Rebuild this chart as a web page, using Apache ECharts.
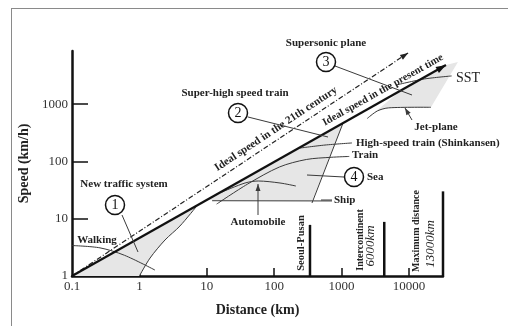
<!DOCTYPE html>
<html><head><meta charset="utf-8">
<script src="https://cdn.jsdelivr.net/npm/echarts@6/dist/echarts.min.js"></script>
<style>html,body{margin:0;padding:0;background:#fff}#c{width:508px;height:326px}</style>
</head><body><div id="c"></div>
<script>
// Axis ticks
const xTickLabels = [0.1, 1, 10, 100, 1000, 10000];
const xTickMarks = [1, 10, 100, 1000, 10000];
const yTickLabels = [1, 10, 100, 1000];
const yTickMarks = [10, 100, 1000];

// Lines (distance km, speed km/h)
const idealNow = [[0.1, 1], [35400, 4800]];
const ideal21 = [[0.1, 1], [9700, 7800]];
const regionWalk = [[0.1, 1], [1, 1], [1.44, 2.06], [2.4, 4.25], [4.0, 7.46], [7.2, 17]];
const newTrafficCurve = [[1, 1], [1.44, 2.06], [2.4, 4.25], [4.0, 7.46], [7.2, 17]];
const regionLand = [[10, 21.2], [1050, 465], [364, 20.4]];
const regionAir = [[2400, 560], [7000, 1600], [35400, 4800], [53300, 5430], [21200, 880], [5000, 860], [3400, 760]];
const walking = [[0.1, 3.4], [0.26, 3.1], [0.6, 2.3], [1.7, 1.27]];
const train = [[14, 18], [40, 40], [120, 80], [300, 108], [700, 118], [1300, 122]];
const shinkansen = [[241, 171], [568, 193], [1427, 210]];
const automobile = [[16.8, 29.2], [37, 42], [58, 45.5], [122, 42], [210, 37.2]];
const ship = [[12, 20.6], [721, 20.4]];
const seaEdge = [[1050, 465], [364, 18.8]];
const jet = [[2400, 560], [3400, 760], [5000, 860], [21200, 880]];
const sst = [[6400, 2150], [17000, 2750], [43000, 3100]];
const seoulPusan = [[340, 1], [340, 7.8]];
const interContinent = [[4300, 1], [4300, 8.8]];
const maxDistance = [[32000, 1], [32000, 30]];

const SERIF = '"Liberation Serif","Times New Roman",serif';

function pathSeries(points, o) {
  return {
    type: 'custom', coordinateSystem: 'cartesian2d', data: [points[0]],
    z: o.z || 3, silent: true, clip: false,
    renderItem: function (params, api) {
      const pts = points.map(p => api.coord(p));
      const children = [];
      if (o.fill) {
        children.push({type: 'polygon', shape: {points: pts}, style: {fill: o.fill, stroke: null}});
      } else {
        children.push({type: 'polyline', shape: {points: pts, smooth: o.smooth || 0},
          style: {stroke: o.color, lineWidth: o.width, lineDash: o.dash || null, fill: null}});
      }
      if (o.arrow) {
        const a = pts[pts.length - 2], b = pts[pts.length - 1];
        const ang = Math.atan2(b[1] - a[1], b[0] - a[0]);
        const L = o.arrow, W = L * 0.35;
        const bx = b[0] - L * Math.cos(ang), by = b[1] - L * Math.sin(ang);
        children.push({type: 'polygon', shape: {points: [b,
          [bx + W * Math.sin(ang), by - W * Math.cos(ang)],
          [bx - W * Math.sin(ang), by + W * Math.cos(ang)]]}, style: {fill: o.color}});
      }
      return {type: 'group', children};
    }
  };
}

const GREY = '#e6e6e6', LN = '#3a3a3a';
const series = [
  pathSeries(regionWalk, {fill: GREY, z: 1}),
  pathSeries(regionLand, {fill: GREY, z: 1}),
  pathSeries(regionAir, {fill: GREY, z: 1}),
  pathSeries(newTrafficCurve, {color: LN, width: 1, smooth: 0.3}),
  pathSeries(walking, {color: LN, width: 1, smooth: 0.3}),
  pathSeries(train, {color: LN, width: 1, smooth: 0.3}),
  pathSeries(shinkansen, {color: LN, width: 1, smooth: 0.3}),
  pathSeries(automobile, {color: LN, width: 1, smooth: 0.3}),
  pathSeries(ship, {color: LN, width: 1}),
  pathSeries(seaEdge, {color: LN, width: 1}),
  pathSeries(jet, {color: LN, width: 1, smooth: 0.3}),
  pathSeries(sst, {color: LN, width: 1, smooth: 0.3}),
  pathSeries(ideal21, {color: '#222', width: 1.2, dash: [5, 2, 1, 2], arrow: 8}),
  pathSeries(idealNow, {color: '#111', width: 2.2, arrow: 10}),
  pathSeries(seoulPusan, {color: '#111', width: 2.5}),
  pathSeries(interContinent, {color: '#111', width: 2.5}),
  pathSeries(maxDistance, {color: '#111', width: 2.5})
];

function txt(t, x, y, o) {
  o = o || {};
  return {type: 'text', x: x, y: y, rotation: o.rot || 0, z: 100, silent: true,
    style: {text: t, font: o.font || ('bold 11px ' + SERIF), fill: o.color || '#222',
      align: o.align || 'center', verticalAlign: 'middle'}};
}
function circ(n, x, y) {
  return [{type: 'circle', z: 100, silent: true, shape: {cx: x, cy: y, r: 9.5},
    style: {fill: '#fff', stroke: '#111', lineWidth: 1.5}},
    txt(String(n), x, y + 0.5, {font: '14px ' + SERIF, color: '#111'})];
}
function seg(pts, arrow) {
  const out = [{type: 'polyline', z: 99, silent: true, shape: {points: pts},
    style: {stroke: LN, lineWidth: 1, fill: null}}];
  if (arrow) {
    const a = pts[0], b = pts[1];
    const ang = Math.atan2(b[1] - a[1], b[0] - a[0]);
    const L = 7, W = 2.5;
    const bx = b[0] - L * Math.cos(ang), by = b[1] - L * Math.sin(ang);
    out.push({type: 'polygon', z: 99, silent: true, shape: {points: [b,
      [bx + W * Math.sin(ang), by - W * Math.cos(ang)],
      [bx - W * Math.sin(ang), by + W * Math.cos(ang)]]}, style: {fill: LN}});
  }
  return out;
}

const graphic = [].concat(
  [{type: 'line', z: 100, silent: true, shape: {x1: 11, y1: 8.5, x2: 508, y2: 8.5}, style: {stroke: '#8a8a8a', lineWidth: 1}},
   {type: 'line', z: 100, silent: true, shape: {x1: 11.5, y1: 8, x2: 11.5, y2: 326}, style: {stroke: '#8a8a8a', lineWidth: 1}}],
  seg([[122, 215], [138, 252]]),
  seg([[248, 117], [328, 137]]),
  seg([[335, 66], [412, 95]]),
  seg([[344, 177], [307, 175]]),
  seg([[258, 215], [258, 184]], true),
  seg([[412, 120], [405, 108]], true),
  seg([[332, 200], [321, 200]]),
  circ(1, 115, 205), circ(2, 238, 113), circ(3, 326, 62), circ(4, 354, 177),
  [
    txt('Supersonic plane', 326, 43),
    txt('Super-high speed train', 235, 93),
    txt('SST', 456, 78, {align: 'left', font: '14px ' + SERIF}),
    txt('Jet-plane', 436, 127),
    txt('High-speed train (Shinkansen)', 356, 143, {align: 'left'}),
    txt('Train', 352, 155, {align: 'left'}),
    txt('Sea', 367, 177, {align: 'left'}),
    txt('Ship', 334, 200, {align: 'left'}),
    txt('Automobile', 258, 222),
    txt('New traffic system', 124, 184),
    txt('Walking', 97, 240),
    txt('Ideal speed in the 21th century', 276, 129, {rot: 0.585}),
    txt('Ideal speed in the present time', 383, 90, {rot: 0.51, font: 'bold 10.5px ' + SERIF}),
    txt('Seoul-Pusan', 301, 243, {rot: Math.PI / 2, font: 'bold 10.5px ' + SERIF}),
    txt('Intercontinent', 360, 240, {rot: Math.PI / 2, font: 'bold 10px ' + SERIF}),
    txt('6000km', 371, 246, {rot: Math.PI / 2, font: 'italic 13px ' + SERIF}),
    txt('Maximum distance', 416, 231, {rot: Math.PI / 2, font: 'bold 10px ' + SERIF}),
    txt('13000km', 431, 244, {rot: Math.PI / 2, font: 'italic 13px ' + SERIF})
  ]
);

const chart = echarts.init(document.getElementById('c'), null, {renderer: 'canvas'});
chart.setOption({
  animation: false,
  backgroundColor: '#fff',
  grid: {left: 72, right: 65, top: 51, bottom: 50, containLabel: false},
  xAxis: {
    type: 'log', logBase: 10, min: 0.1, max: 32000,
    name: 'Distance (km)', nameLocation: 'middle', nameGap: 27,
    nameTextStyle: {fontFamily: SERIF, fontWeight: 'bold', fontSize: 14, color: '#222'},
    axisLine: {lineStyle: {color: '#111', width: 2.5}},
    axisTick: {inside: true, length: 8, lineStyle: {color: '#111', width: 1.5}, customValues: xTickMarks},
    axisLabel: {customValues: xTickLabels, fontFamily: SERIF, fontSize: 13, color: '#333', margin: 4,
      formatter: v => String(+Number(v).toPrecision(3))},
    splitLine: {show: false}
  },
  yAxis: {
    type: 'log', logBase: 10, min: 1, max: 8450,
    name: 'Speed (km/h)', nameLocation: 'middle', nameGap: 37,
    nameTextStyle: {fontFamily: SERIF, fontWeight: 'bold', fontSize: 14, color: '#222'},
    axisLine: {lineStyle: {color: '#111', width: 2.5}},
    axisTick: {inside: true, length: 16, lineStyle: {color: '#111', width: 1.5}, customValues: yTickMarks},
    axisLabel: {customValues: yTickLabels, fontFamily: SERIF, fontSize: 13, color: '#333', margin: 4,
      formatter: v => String(+Number(v).toPrecision(3))},
    splitLine: {show: false}
  },
  series: series,
  graphic: graphic
});
</script>
</body></html>
